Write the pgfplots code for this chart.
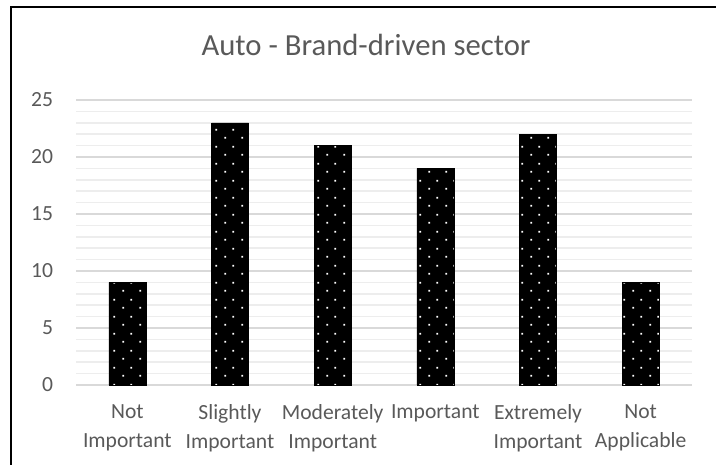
\documentclass[border=0pt]{standalone}
\usepackage{fontspec}
\setmainfont{Carlito}
\usepackage{pgfplots}
\pgfplotsset{compat=1.18}
\usetikzlibrary{patterns.meta}

\definecolor{labelgray}{HTML}{595959}
\definecolor{majorgrid}{HTML}{D9D9D9}
\definecolor{minorgrid}{HTML}{EDEDED}

% staggered sparse dot fill for the bars
\tikzdeclarepattern{
  name=sparsedots, type=uncolored,
  bottom left={(0pt,0pt)}, top right={(12.75pt,12.75pt)},
  tile size={(12.75pt,12.75pt)},
  code={
    \pgfpathrectangle{\pgfpoint{2.6pt}{2.6pt}}{\pgfpoint{1.5pt}{1.5pt}}
    \pgfpathrectangle{\pgfpoint{8.97pt}{8.97pt}}{\pgfpoint{1.5pt}{1.5pt}}
    \pgfusepath{fill}
  }
}

\begin{document}
\begin{tikzpicture}
\useasboundingbox (0,0) rectangle (537pt,348pt);
\begin{axis}[
  at={(57pt,59.25pt)}, anchor=south west,
  scale only axis, width=462pt, height=213.75pt,
  xmin=-0.5, xmax=5.5, ymin=0, ymax=25,
  enlargelimits=false,
  xtick={0,...,5},
  xticklabels={Not\\Important, Slightly\\Important, Moderately\\Important, Important, Extremely\\Important, Not\\Applicable},
  ytick={0,5,...,25},
  minor y tick num=4,
  ymajorgrids, yminorgrids,
  major grid style={majorgrid, line width=1.1pt},
  minor grid style={minorgrid, line width=1.1pt},
  axis line style={draw=none},
  tick style={draw=none},
  /pgf/number format/assume math mode=true,
  tick label style={font=\fontsize{16.2}{22}\selectfont, text=labelgray},
  xticklabel style={align=center, anchor=north, inner sep=0pt, yshift=-14.5pt},
  yticklabel style={anchor=east, inner sep=0pt, xshift=-17pt},
  title={Auto - Brand-driven sector},
  title style={at={(axis description cs:0.471,1)}, anchor=base, yshift=27pt,
    inner sep=0pt, font=\fontsize{23}{28}\selectfont, text=labelgray},
]
\addplot[ybar, bar width=27.75pt, fill=black, draw=black,
  postaction={pattern=sparsedots, pattern color=white}]
  coordinates {(0,9) (1,23) (2,21) (3,19) (4,22) (5,9)};
\end{axis}
\draw[line width=1.5pt] (8.25pt,-5pt) -- (8.25pt,342.4pt) -- (545pt,342.4pt);
\end{tikzpicture}
\end{document}
